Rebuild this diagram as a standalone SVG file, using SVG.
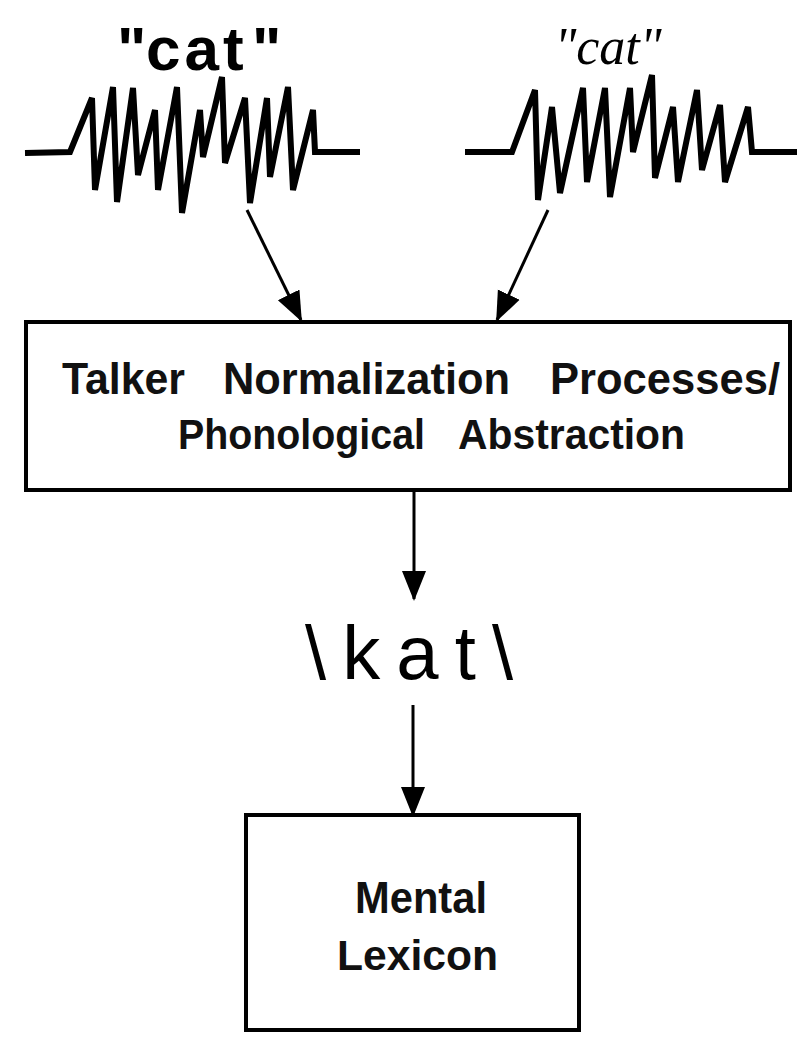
<svg xmlns="http://www.w3.org/2000/svg" width="812" height="1050" viewBox="0 0 812 1050">
<style>
.wave{fill:none;stroke:#000;stroke-width:6;stroke-linejoin:miter;stroke-miterlimit:3}
.box{fill:#fff;stroke:#000;stroke-width:4}
.conn{stroke:#000;stroke-width:3;fill:none}
.lbl{font-family:"Liberation Sans",Arial,sans-serif;font-weight:bold;fill:#111}
</style>
<defs>
<marker id="ah" markerUnits="userSpaceOnUse" markerWidth="30" markerHeight="30" viewBox="0 0 30 30" refX="28" refY="15" orient="auto">
<path d="M0,3 L30,15 L0,27 Z" fill="#000"/>
</marker>
</defs>
<rect width="812" height="1050" fill="#fff"/>
<g id="wave-left">
<text y="70" font-family="Liberation Sans,Arial,sans-serif" font-weight="bold" font-size="62" fill="#000"><tspan x="117">"</tspan><tspan x="146" letter-spacing="4">cat</tspan><tspan x="252">"</tspan></text>
<polyline class="wave" points="25,153 70,152 92,98 95,190 113,87 117,202 133,88 138,175 155,110 158,190 177,87 182,213 200,110 203,157 222,77 225,163 245,98 250,203 267,98 270,177 288,87 293,190 313,110 315,152 360,152"/>
</g>
<g id="wave-right">
<text x="608" y="64" text-anchor="middle" font-family="Liberation Serif,Times New Roman,serif" font-style="italic" font-size="52" fill="#000">"cat"</text>
<polyline class="wave" points="465,152 512,152 535,90 538,200 552,107 560,193 583,88 587,182 605,88 610,197 630,88 633,152 652,75 655,178 673,107 678,182 697,90 702,170 720,105 725,182 748,107 752,152 797,152"/>
</g>
<g id="connectors">
<line class="conn" x1="247" y1="210" x2="301" y2="320" marker-end="url(#ah)"/>
<line class="conn" x1="548" y1="210" x2="497" y2="320" marker-end="url(#ah)"/>
<line class="conn" x1="414" y1="490" x2="414" y2="599" marker-end="url(#ah)"/>
<line class="conn" x1="413" y1="705" x2="413" y2="815" marker-end="url(#ah)"/>
</g>
<g id="normalization">
<rect class="box" x="26" y="322" width="764" height="168"/>
<text class="lbl" font-size="44" y="394" x="62" textLength="123" lengthAdjust="spacingAndGlyphs">Talker</text>
<text class="lbl" font-size="44" y="394" x="223" textLength="287" lengthAdjust="spacingAndGlyphs">Normalization</text>
<text class="lbl" font-size="44" y="394" x="550" textLength="230" lengthAdjust="spacingAndGlyphs">Processes/</text>
<text class="lbl" font-size="42" y="449" x="178" textLength="247" lengthAdjust="spacingAndGlyphs">Phonological</text>
<text class="lbl" font-size="42" y="449" x="458" textLength="227" lengthAdjust="spacingAndGlyphs">Abstraction</text>
</g>
<g id="kat">
<text x="305" y="679" font-family="Liberation Sans,Arial,sans-serif" font-size="76" textLength="208" lengthAdjust="spacing" fill="#000">\kat\</text>
</g>
<g id="lexicon">
<rect class="box" x="246" y="815" width="333" height="215"/>
<text class="lbl" font-size="44" x="355" y="913" textLength="132" lengthAdjust="spacingAndGlyphs">Mental</text>
<text class="lbl" font-size="42" x="337" y="970" textLength="161" lengthAdjust="spacingAndGlyphs">Lexicon</text>
</g>
</svg>
